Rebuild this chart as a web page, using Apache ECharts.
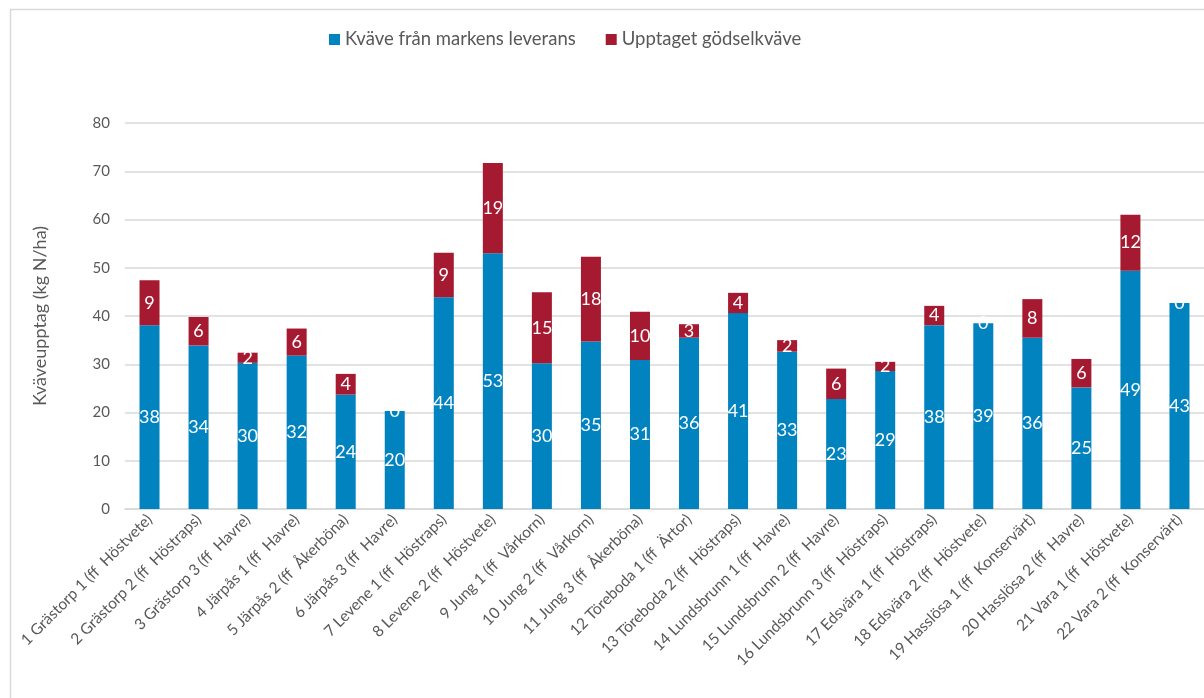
<!DOCTYPE html>
<html>
<head>
<meta charset="utf-8">
<script src="https://cdn.jsdelivr.net/npm/echarts@6/dist/echarts.min.js"></script>
<style>
html,body{margin:0;padding:0;background:#fff;}
#chart{width:1204px;height:698px;}
</style>
</head>
<body>
<div id="chart"></div>
<script>
const categories = [
  "1 Grästorp 1 (ff  Höstvete)",
  "2 Grästorp 2 (ff  Höstraps)",
  "3 Grästorp 3 (ff  Havre)",
  "4 Järpås 1 (ff  Havre)",
  "5 Järpås 2 (ff  Åkerböna)",
  "6 Järpås 3 (ff  Havre)",
  "7 Levene 1 (ff  Höstraps)",
  "8 Levene 2 (ff  Höstvete)",
  "9 Jung 1 (ff  Vårkorn)",
  "10 Jung 2 (ff  Vårkorn)",
  "11 Jung 3 (ff  Åkerböna)",
  "12 Töreboda 1 (ff  Ärtor)",
  "13 Töreboda 2 (ff  Höstraps)",
  "14 Lundsbrunn 1 (ff  Havre)",
  "15 Lundsbrunn 2 (ff  Havre)",
  "16 Lundsbrunn 3 (ff  Höstraps)",
  "17 Edsvära 1 (ff  Höstraps)",
  "18 Edsvära 2 (ff  Höstvete)",
  "19 Hasslösa 1 (ff  Konservärt)",
  "20 Hasslösa 2 (ff  Havre)",
  "21 Vara 1 (ff  Höstvete)",
  "22 Vara 2 (ff  Konservärt)"
];
const markNitrogen = [38.1, 33.9, 30.3, 31.8, 23.7, 20.3, 43.9, 53.0, 30.2, 34.7, 30.9, 35.5, 40.6, 32.6, 22.8, 28.6, 38.1, 38.5, 35.5, 25.2, 49.4, 42.7];
const fertNitrogen = [9.3, 5.9, 2.1, 5.6, 4.3, 0, 9.2, 18.7, 14.7, 17.6, 10.0, 2.8, 4.2, 2.4, 6.3, 1.9, 4.0, 0, 8.0, 5.9, 11.6, 0];
const seriesNames = ["Kväve från markens leverans", "Upptaget gödselkväve"];
const yTicks = {min: 0, max: 80, interval: 10};

const FONT = "Lato, 'Open Sans', sans-serif";
const chart = echarts.init(document.getElementById('chart'), null, {renderer: 'canvas'});
const labelCfg = {
  show: true,
  position: 'inside',
  color: '#ffffff',
  fontSize: 18,
  fontFamily: FONT,
  formatter: p => String(Math.round(p.value))
};
chart.setOption({
  animation: false,
  backgroundColor: '#ffffff',
  graphic: [{
    type: 'rect',
    left: 8, top: 7,
    shape: {width: 1400, height: 900},
    style: {fill: 'none', stroke: '#D9D9D9', lineWidth: 1.5},
    silent: true, z: -10
  }],
  legend: {
    left: 324, top: 25,
    itemWidth: 11, itemHeight: 11,
    itemGap: 30,
    icon: 'rect',
    textStyle: {color: '#595959', fontSize: 18.5, fontFamily: FONT, padding: [0,0,0,0]},
    data: seriesNames
  },
  grid: {left: 125, right: -3, top: 123, bottom: 189},
  xAxis: {
    type: 'category',
    data: categories,
    axisLine: {lineStyle: {color: '#D9D9D9', width: 1.5}},
    axisTick: {show: false},
    axisLabel: {
      rotate: 45, interval: 0, color: '#595959',
      fontSize: 15.5, fontFamily: FONT, margin: 8
    }
  },
  yAxis: {
    type: 'value',
    min: yTicks.min, max: yTicks.max, interval: yTicks.interval,
    name: 'Kväveupptag (kg N/ha)',
    nameLocation: 'middle',
    nameGap: 76,
    nameTextStyle: {color: '#595959', fontSize: 18, fontFamily: FONT},
    axisLine: {show: false},
    axisTick: {show: false},
    axisLabel: {color: '#595959', fontSize: 15, fontFamily: FONT, margin: 15},
    splitLine: {lineStyle: {color: '#D9D9D9', width: 1.5}}
  },
  series: [
    {
      name: seriesNames[0], type: 'bar', stack: 'total',
      barWidth: 20,
      itemStyle: {color: '#0083BF'},
      label: labelCfg,
      data: markNitrogen
    },
    {
      name: seriesNames[1], type: 'bar', stack: 'total',
      barWidth: 20,
      itemStyle: {color: '#A51A31'},
      label: labelCfg,
      data: fertNitrogen
    }
  ]
});
</script>
</body>
</html>
